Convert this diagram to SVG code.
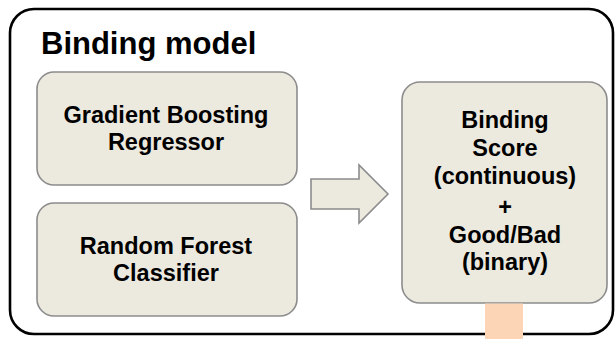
<svg xmlns="http://www.w3.org/2000/svg" width="615" height="339" viewBox="0 0 615 339">
<style>
.frame{fill:#ffffff;stroke:#000000;stroke-width:2.6}
.box{fill:#ECE9DF;stroke:#8C8C8C;stroke-width:1.6}
.lbl{font-family:"Liberation Sans",Arial,Helvetica,sans-serif;font-weight:bold;font-size:23.5px;fill:#000000;text-anchor:middle}
.title{font-family:"Liberation Sans",Arial,Helvetica,sans-serif;font-weight:bold;font-size:31px;fill:#000000}
</style>
<rect width="615" height="339" fill="#ffffff"/>
<g id="binding-model">
<rect class="frame" x="10" y="9" width="603" height="325" rx="24" ry="24"/>
<text class="title" x="41" y="54">Binding model</text>
</g>
<g id="gradient-boosting">
<rect class="box" x="37" y="72" width="260" height="113" rx="17" ry="17"/>
<text class="lbl" x="166" y="123">Gradient Boosting</text>
<text class="lbl" x="166" y="150">Regressor</text>
</g>
<g id="random-forest">
<rect class="box" x="37" y="203" width="260" height="113" rx="17" ry="17"/>
<text class="lbl" x="166" y="254">Random Forest</text>
<text class="lbl" x="166" y="281">Classifier</text>
</g>
<g id="binding-score">
<rect class="box" x="402" y="82" width="205" height="221" rx="18" ry="18"/>
<text class="lbl" x="505" y="128">Binding</text>
<text class="lbl" x="505" y="156">Score</text>
<text class="lbl" x="505" y="184">(continuous)</text>
<text class="lbl" x="505" y="215">+</text>
<text class="lbl" x="505" y="243">Good/Bad</text>
<text class="lbl" x="505" y="270">(binary)</text>
</g>
<g id="connectors">
<polygon class="box" points="311,179 359,179 359,165 388,194 359,223 359,209 311,209"/>
</g>
<g id="output-tab">
<rect x="485" y="303.5" width="38" height="36" fill="#FBD5B5"/>
</g>
</svg>
